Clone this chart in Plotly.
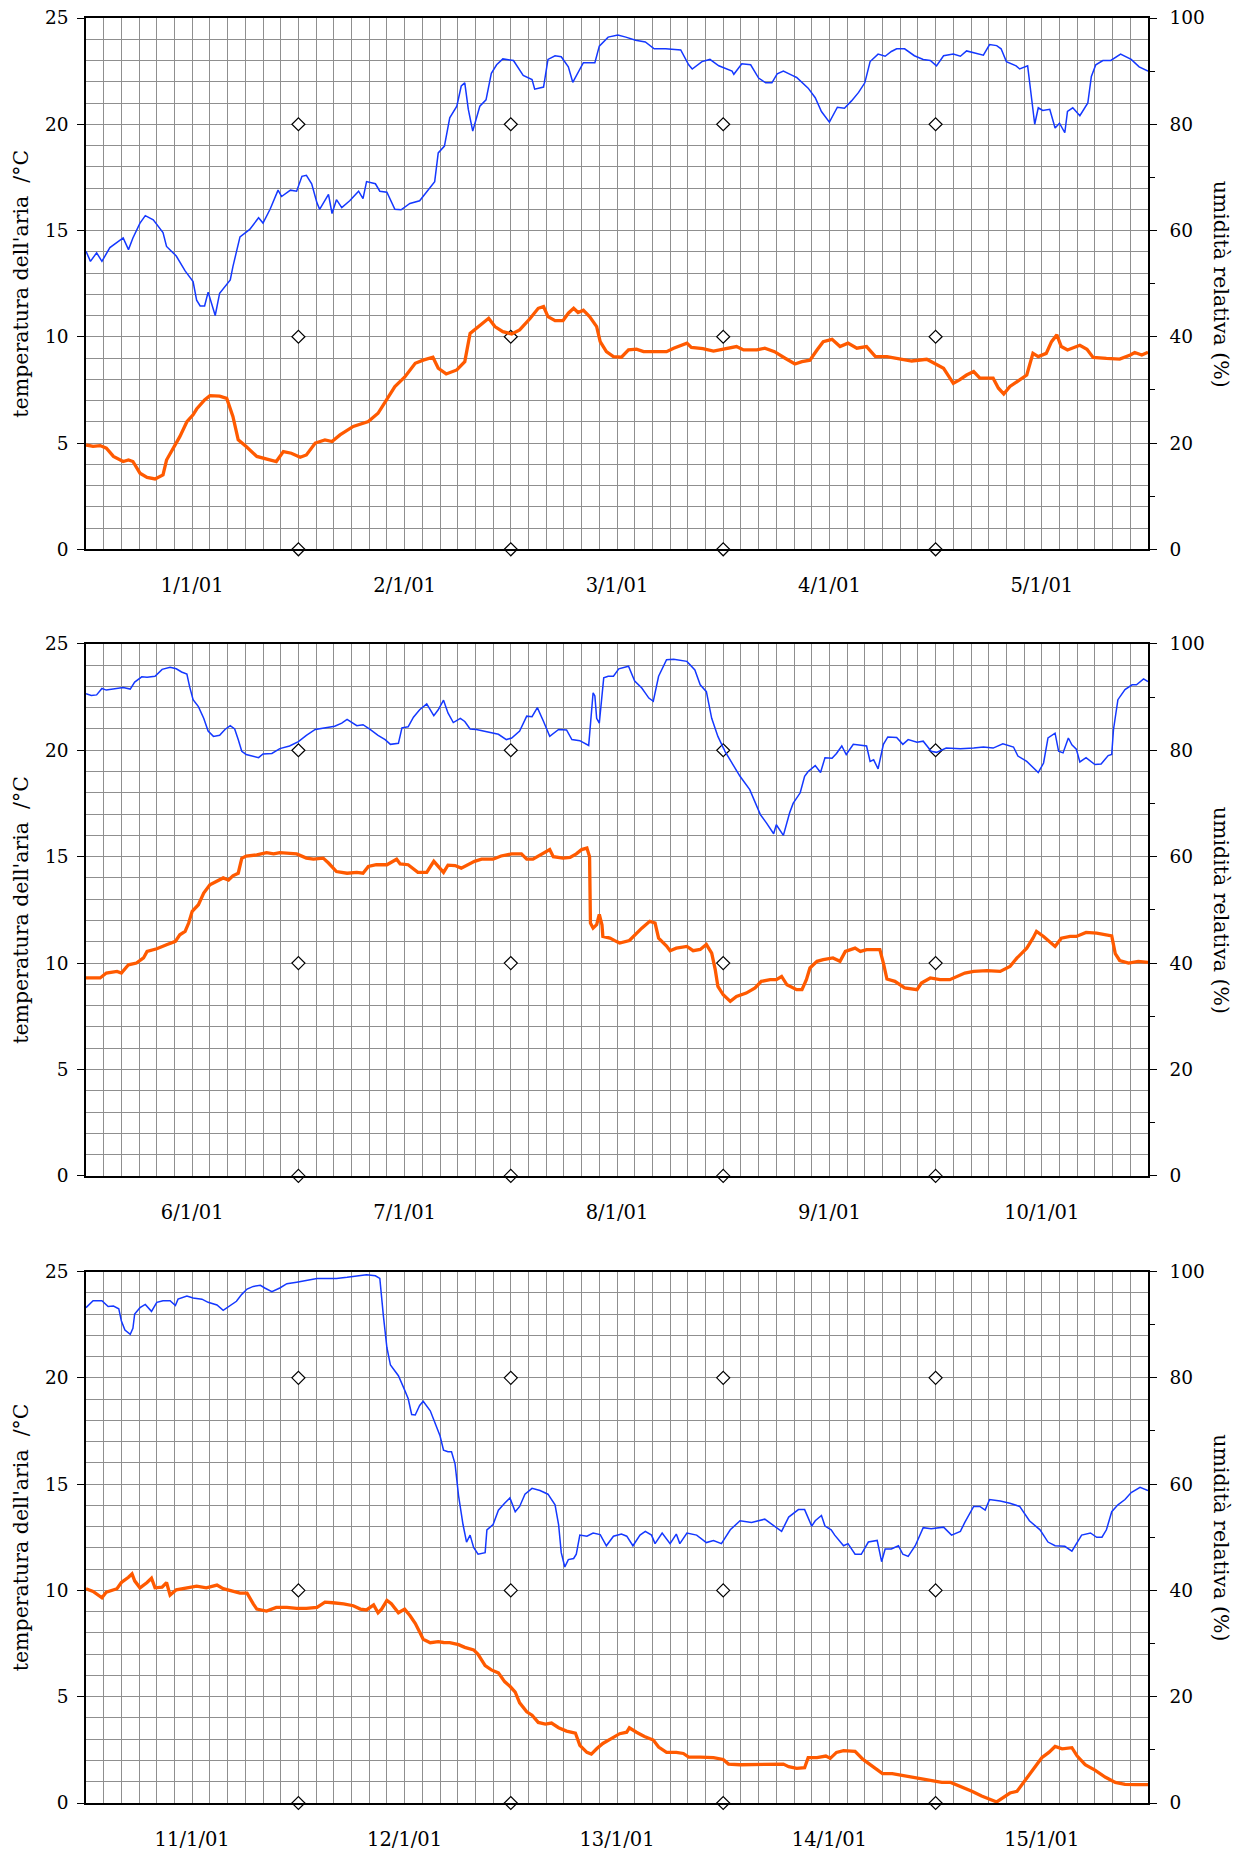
import plotly.graph_objects as go
from datetime import datetime, timedelta

# ---------------- data ----------------
panel_starts = ["2001-01-01", "2001-01-06", "2001-01-11"]
day_labels = [
    ["1/1/01", "2/1/01", "3/1/01", "4/1/01", "5/1/01"],
    ["6/1/01", "7/1/01", "8/1/01", "9/1/01", "10/1/01"],
    ["11/1/01", "12/1/01", "13/1/01", "14/1/01", "15/1/01"],
]
marker_days = [1, 2, 3, 4]          # day boundaries carrying reference diamonds
marker_levels = [0, 10, 20]         # temperature levels of the diamonds

# Panel 1 (1-5 Jan): hours from start, temperature (°C) / relative humidity (%)
p1_temp_h = [0, 0.8, 1.6, 2.3, 3.1, 4.2, 4.8, 5.3, 6.1, 6.9, 7.8, 8.7, 9.1, 9.9, 10.6, 11.4, 12.1, 12.5, 13.4, 14.0,
             15.1, 15.9, 16.6, 17.2, 18.1, 19.3, 20.0, 21.0, 21.5, 22.3, 23.2, 24.2, 24.9, 25.9, 27.0, 27.8, 28.7, 30.2,
             30.8, 31.9, 33.0, 34.0, 34.9, 36.0, 37.2, 38.1, 39.2, 39.8, 40.7, 41.9, 42.8, 43.4, 44.1, 44.9, 45.5, 46.2,
             47.1, 48.1, 49.0, 50.2, 51.1, 51.7, 52.2, 53.0, 53.9, 54.5, 55.1, 55.6, 56.2, 56.9, 57.7, 58.1, 58.8, 59.6,
             60.5, 61.3, 62.2, 63.0, 64.5, 65.6, 66.4, 67.9, 68.4, 69.7, 70.9, 72.0, 73.5, 74.3, 75.8, 76.7, 77.8, 79.0,
             80.1, 80.9, 81.8, 82.6, 83.3, 84.3, 85.2, 86.1, 87.1, 88.2, 89.2, 90.5, 92.0, 93.3, 95.0, 95.9, 96.9, 97.4,
             98.0, 98.7, 99.5, 100.3, 101.0, 102.5, 103.1, 103.7, 104.4, 105.5, 106.3, 107.0, 107.6, 108.5, 109.1, 109.7,
             110.2, 110.9, 112.3, 113.1, 113.8, 115.3, 116.8, 118.0, 118.5, 119.3, 120]
p1_temp = [4.91, 4.84, 4.88, 4.76, 4.37, 4.13, 4.2, 4.13, 3.58, 3.38, 3.31, 3.5, 4.2, 4.76, 5.3, 6.0, 6.33, 6.6, 7.03, 7.23,
           7.21, 7.1, 6.25, 5.15, 4.84, 4.37, 4.29, 4.2, 4.13, 4.6, 4.52, 4.33, 4.44, 5.0, 5.15, 5.07, 5.38, 5.78,
           5.86, 6.01, 6.4, 7.1, 7.66, 8.1, 8.75, 8.9, 9.04, 8.52, 8.25, 8.44, 8.83, 10.16, 10.4, 10.63, 10.87, 10.48,
           10.24, 10.13, 10.32, 10.87, 11.34, 11.42, 10.95, 10.76, 10.76, 11.11, 11.34, 11.14, 11.25, 10.95, 10.48, 9.77, 9.3, 9.07,
           9.04, 9.38, 9.42, 9.3, 9.3, 9.3, 9.46, 9.7, 9.5, 9.44, 9.33, 9.41, 9.54, 9.38, 9.38, 9.46, 9.3, 8.99,
           8.72, 8.83, 8.9, 9.38, 9.77, 9.88, 9.54, 9.7, 9.46, 9.54, 9.07, 9.07, 8.94, 8.86, 8.94, 8.75, 8.52, 8.2,
           7.81, 7.97, 8.2, 8.36, 8.05, 8.05, 7.58, 7.31, 7.66, 7.97, 8.2, 9.22, 9.07, 9.22, 9.77, 10.09,
           9.54, 9.38, 9.6, 9.41, 9.03, 8.98, 8.95, 9.14, 9.26, 9.14, 9.27]
p1_hum_h = [0, 0.5, 1.2, 1.8, 2.7, 4.2, 4.8, 5.3, 6.1, 6.7, 7.6, 8.7, 9.1, 10.2, 11.2, 12.1, 12.5, 12.9, 13.4, 13.8, 14.6,
            15.1, 16.3, 16.6, 17.4, 18.5, 19.5, 20.0, 20.8, 21.7, 22.1, 23.1, 23.8, 24.4, 24.9, 25.5, 26.1, 26.4, 27.4,
            27.8, 28.3, 28.9, 29.8, 30.8, 31.3, 31.7, 32.7, 33.2, 34.0, 34.9, 35.6, 36.6, 37.7, 38.7, 39.4, 39.8, 40.5,
            41.1, 41.9, 42.4, 42.8, 43.2, 43.7, 44.5, 45.2, 45.8, 46.4, 47.1, 48.3, 49.4, 50.4, 50.7, 51.7, 52.2, 53.0,
            53.7, 54.5, 55.0, 55.4, 56.2, 57.5, 58.0, 59.0, 60.1, 61.0, 62.1, 63.2, 64.2, 65.5, 67.2, 68.1, 68.5, 69.6,
            70.5, 71.5, 73.0, 73.2, 74.1, 75.1, 76.0, 76.8, 77.5, 78.1, 78.8, 79.8, 80.3, 81.6, 82.4, 83.1, 84.0, 84.9,
            85.7, 86.5, 87.3, 88.0, 88.6, 89.5, 90.3, 91.0, 91.6, 92.5, 93.6, 94.6, 95.4, 96.1, 96.9, 98.0, 98.8, 99.5,
            100.6, 101.4, 102.1, 102.9, 103.4, 104.0, 105.1, 105.5, 106.4, 106.7, 107.2, 107.6, 108.1, 108.9, 109.5,
            110.0, 110.6, 110.9, 111.5, 112.3, 113.2, 113.6, 114.1, 114.9, 115.8, 116.9, 118.1, 119.0, 119.8, 120]
p1_hum = [56.1, 54.2, 55.8, 54.2, 56.8, 58.6, 56.4, 58.6, 61.4, 62.8, 62.0, 59.6, 57.0, 55.2, 52.4, 50.4, 46.9, 45.8, 45.8, 48.4, 44.0,
          48.2, 50.7, 53.2, 58.8, 60.2, 62.4, 61.4, 64.0, 67.6, 66.4, 67.6, 67.4, 70.2, 70.4, 68.8, 65.2, 64.0, 66.8,
          63.2, 65.8, 64.3, 65.6, 67.4, 66.0, 69.2, 68.8, 67.4, 67.2, 64.0, 63.9, 65.1, 65.6, 67.6, 69.2, 74.6, 75.9,
          81.2, 83.4, 87.2, 87.8, 82.8, 78.7, 83.4, 84.6, 89.6, 91.2, 92.3, 92.0, 89.2, 88.4, 86.6, 87.0, 92.2, 92.9,
          92.7, 90.8, 87.9, 89.2, 91.6, 91.6, 94.7, 96.4, 96.8, 96.4, 95.8, 95.5, 94.2, 94.2, 94.0, 91.2, 90.4, 91.8,
          92.2, 91.0, 90.0, 89.4, 91.4, 91.2, 88.7, 87.8, 87.8, 89.5, 90.0, 89.2, 88.8, 86.8, 85.0, 82.4, 80.4, 83.2,
          83.0, 84.4, 86.0, 87.8, 91.8, 93.2, 92.8, 93.7, 94.2, 94.2, 92.9, 92.2, 92.0, 91.0, 92.9, 93.2, 92.8, 93.8,
          93.4, 93.0, 95.0, 94.8, 94.2, 91.8, 91.0, 90.4, 91.0, 87.2, 80.0, 83.1, 82.6, 82.8, 79.3,
          80.2, 78.4, 82.4, 83.1, 81.6, 84.0, 89.0, 91.2, 92.0, 92.0, 93.2, 92.2, 90.8, 90.1, 90.0]

# Panel 2 (6-10 Jan)
p2_temp_h = [0, 1.6, 2.3, 3.5, 4.0, 4.8, 5.7, 6.5, 6.9, 8.0, 9.1, 10.1, 10.6, 11.2, 11.6, 12.0, 12.7, 13.3, 14.0, 14.8,
             15.5, 16.1, 16.6, 17.2, 17.6, 18.1, 19.3, 20.4, 21.2, 21.9, 22.9, 23.8, 24.9, 25.7, 26.8, 27.4, 28.3, 29.5,
             30.6, 31.3, 31.9, 32.8, 34.0, 35.1, 35.5, 36.4, 37.5, 38.5, 39.3, 39.8, 40.4, 40.9, 41.7, 42.4, 43.2, 43.9,
             44.7, 46.0, 46.9, 48.1, 49.2, 49.8, 50.5, 51.3, 52.4, 52.8, 53.9, 54.7, 55.4, 56.0, 56.6, 56.9, 57.0, 57.3,
             57.7, 58.0, 58.3, 58.4, 59.2, 59.9, 60.3, 61.4, 62.0, 62.8, 63.7, 64.3, 64.7, 65.6, 66.0, 66.7, 67.9, 68.6,
             69.4, 70.1, 70.7, 71.1, 71.4, 72.0, 72.8, 73.5, 74.6, 75.6, 76.3, 77.3, 78.0, 78.6, 79.2, 80.3, 80.9, 81.4,
             81.8, 82.6, 83.3, 84.4, 85.2, 85.8, 86.9, 87.5, 88.2, 89.7, 90.1, 90.5, 91.4, 92.5, 93.9, 94.4, 95.4, 96.5,
             97.6, 98.4, 99.3, 100.3, 101.8, 103.3, 104.4, 105.2, 106.3, 107.0, 107.4, 108.2, 108.9, 109.5, 110.2, 111.2,
             111.9, 113.0, 114.2, 115.3, 115.9, 116.3, 116.8, 117.8, 118.9, 120]
p2_temp = [9.3, 9.3, 9.53, 9.61, 9.53, 9.92, 10.0, 10.24, 10.55, 10.67, 10.86, 11.02, 11.33, 11.49, 11.88, 12.43, 12.74, 13.29, 13.68, 13.84,
           14.0, 13.9, 14.1, 14.22, 14.92, 15.03, 15.08, 15.19, 15.13, 15.19, 15.16, 15.13, 14.93, 14.88, 14.93, 14.7, 14.3, 14.22,
           14.26, 14.22, 14.54, 14.62, 14.62, 14.88, 14.66, 14.62, 14.26, 14.26, 14.78, 14.54, 14.26, 14.6, 14.58, 14.46, 14.62, 14.78,
           14.88, 14.88, 15.03, 15.13, 15.13, 14.88, 14.88, 15.08, 15.33, 15.0, 14.93, 14.96, 15.13, 15.33, 15.4, 15.0, 11.88, 11.64,
           11.8, 12.28, 11.8, 11.25, 11.17, 11.02, 10.94, 11.06, 11.33, 11.64, 11.96, 11.88, 11.17, 10.8, 10.58, 10.7, 10.78, 10.58,
           10.64, 10.87, 10.47, 9.69, 8.9, 8.51, 8.2, 8.43, 8.59, 8.83, 9.14, 9.22, 9.22, 9.37, 8.98, 8.75, 8.75, 9.22,
           9.77, 10.08, 10.16, 10.24, 10.08, 10.55, 10.7, 10.55, 10.63, 10.63, 10.0, 9.25, 9.14, 8.83, 8.75, 9.06, 9.3, 9.22,
           9.22, 9.37, 9.53, 9.61, 9.64, 9.61, 9.84, 10.24, 10.7, 11.17, 11.49, 11.25, 11.02, 10.78, 11.17, 11.25,
           11.25, 11.44, 11.41, 11.33, 11.28, 10.44, 10.12, 10.0, 10.08, 10.03]
p2_hum_h = [0, 0.6, 1.2, 1.8, 2.3, 3.1, 4.2, 5.0, 5.5, 6.3, 6.9, 7.8, 8.6, 9.5, 10.2, 10.8, 11.4, 11.7, 12.1, 12.7, 13.3,
            13.8, 14.4, 15.1, 15.7, 16.3, 16.8, 17.2, 17.6, 18.1, 18.9, 19.5, 20.0, 21.0, 21.9, 23.0, 24.0, 24.9, 25.9,
            26.8, 28.1, 28.9, 29.5, 30.6, 31.3, 32.1, 33.0, 33.8, 34.4, 35.3, 35.7, 36.4, 37.0, 37.7, 38.5, 39.3, 39.8,
            40.4, 40.9, 41.5, 42.3, 42.8, 43.4, 44.1, 45.3, 46.6, 47.5, 48.1, 49.0, 49.8, 50.4, 51.0, 51.7, 52.4, 53.4,
            54.3, 54.9, 55.8, 56.8, 57.0, 57.3, 57.5, 57.7, 58.0, 58.3, 58.5, 59.0, 59.6, 60.2, 61.3, 62.0, 62.8, 63.6,
            64.1, 64.7, 65.6, 66.4, 67.9, 68.8, 69.4, 70.1, 70.7, 71.4, 72.2, 73.1, 73.9, 75.0, 76.2, 76.9, 77.7, 78.0,
            78.8, 79.5, 79.9, 80.7, 81.2, 81.6, 82.4, 83.0, 83.5, 84.3, 84.8, 85.4, 85.9, 86.7, 87.4, 88.2, 88.6, 89.0,
            89.5, 90.1, 90.6, 91.6, 92.3, 92.9, 93.9, 94.6, 95.5, 96.1, 97.2, 98.8, 100.3, 101.4, 102.5, 103.6, 104.8,
            105.3, 106.3, 107.0, 107.6, 108.2, 108.7, 109.5, 109.9, 110.4, 111.0, 111.4, 111.9, 112.3, 113.0, 114.0,
            114.7, 115.5, 115.9, 116.1, 116.6, 117.4, 118.2, 118.7, 119.5, 120]
p2_hum = [90.6, 90.3, 90.4, 91.6, 91.3, 91.5, 91.8, 91.5, 92.8, 93.8, 93.7, 93.9, 95.2, 95.6, 95.3, 94.7, 94.3, 92.0, 89.5, 88.2, 86.0,
          83.6, 82.6, 82.8, 83.9, 84.6, 84.0, 82.0, 79.8, 79.2, 78.9, 78.6, 79.3, 79.4, 80.3, 80.8, 81.6, 82.8, 83.9,
          84.1, 84.5, 85.1, 85.8, 84.6, 84.8, 83.9, 82.8, 82.0, 81.1, 81.3, 84.2, 84.4, 86.2, 87.6, 88.7, 86.5, 87.6,
          89.4, 87.0, 85.2, 86.0, 85.4, 84.0, 83.9, 83.4, 83.0, 82.0, 82.3, 83.6, 86.4, 86.3, 88.0, 85.4, 82.6, 83.9,
          83.8, 82.0, 81.8, 80.9, 84.5, 90.8, 90.2, 86.0, 85.1, 90.2, 93.6, 93.9, 93.9, 95.3, 95.8, 93.0, 91.7, 89.8,
          89.2, 93.9, 97.0, 97.1, 96.7, 95.1, 92.3, 91.0, 86.0, 82.6, 79.8, 77.3, 75.1, 72.6, 67.9, 66.3, 64.3, 66.0,
          64.0, 68.2, 70.0, 72.0, 75.1, 76.0, 77.1, 75.8, 78.6, 78.5, 79.4, 80.8, 79.2, 81.1, 81.0, 80.8, 77.9, 78.2,
          76.5, 81.1, 82.5, 82.4, 81.1, 82.0, 81.5, 81.7, 79.8, 79.6, 80.4, 80.3, 80.4, 80.6, 80.4, 81.2, 80.6,
          78.9, 77.9, 76.7, 75.8, 77.6, 82.3, 83.2, 79.8, 79.5, 82.3, 81.0, 80.2, 77.8, 78.6, 77.3,
          77.4, 79.0, 79.2, 83.9, 89.5, 91.4, 92.3, 92.3, 93.4, 92.9]

# Panel 3 (11-15 Jan)
p3_temp_h = [0, 0.8, 1.8, 2.3, 3.5, 4.0, 4.8, 5.2, 5.5, 6.1, 6.9, 7.4, 7.8, 8.6, 9.1, 9.5, 10.2, 11.4, 12.5, 13.6, 14.8,
             15.5, 16.5, 17.4, 18.2, 18.5, 18.9, 19.3, 20.4, 21.5, 22.7, 23.8, 24.9, 26.1, 27.0, 27.9, 29.1, 30.2, 31.0,
             31.7, 32.5, 33.0, 33.4, 34.0, 34.5, 35.3, 36.0, 36.6, 37.2, 37.7, 38.1, 38.9, 39.8, 40.4, 41.1, 42.1, 42.8,
             43.8, 44.3, 45.1, 45.8, 46.6, 47.3, 47.9, 48.5, 49.0, 49.8, 50.4, 51.1, 51.9, 52.6, 53.4, 54.3, 55.3, 55.8,
             56.6, 57.1, 57.7, 58.4, 59.4, 60.3, 61.1, 61.4, 62.2, 63.1, 64.1, 64.7, 65.6, 66.7, 67.5, 68.1, 69.4, 70.9,
             72.0, 72.6, 73.9, 75.8, 77.7, 78.8, 79.4, 80.3, 81.2, 81.6, 82.6, 83.6, 84.1, 84.8, 85.6, 86.9, 87.8, 88.9,
             90.0, 91.1, 92.3, 93.4, 94.5, 95.6, 96.7, 97.7, 98.2, 99.0, 100.1, 101.2, 102.2, 102.9, 103.5, 104.4, 105.2,
             105.8, 106.5, 107.3, 108.0, 108.8, 109.5, 110.3, 111.4, 112.0, 112.9, 114.0, 115.2, 116.3, 117.4, 118.6, 120]
p3_temp = [10.08, 9.95, 9.65, 9.92, 10.08, 10.37, 10.62, 10.78, 10.45, 10.12, 10.37, 10.57, 10.12, 10.15, 10.37, 9.78, 10.03, 10.12, 10.2, 10.12, 10.25,
           10.08, 9.98, 9.87, 9.87, 9.62, 9.37, 9.12, 9.03, 9.2, 9.2, 9.15, 9.15, 9.2, 9.45, 9.42, 9.37, 9.28, 9.12,
           9.08, 9.32, 8.95, 9.12, 9.53, 9.37, 8.95, 9.12, 8.82, 8.45, 8.04, 7.7, 7.54, 7.59, 7.55, 7.54, 7.45, 7.32,
           7.2, 6.99, 6.46, 6.26, 6.12, 5.71, 5.49, 5.21, 4.71, 4.29, 4.13, 3.79, 3.71, 3.76, 3.54, 3.38, 3.29, 2.71,
           2.38, 2.3, 2.55, 2.8, 3.04, 3.26, 3.33, 3.54, 3.33, 3.13, 2.96, 2.63, 2.38, 2.38, 2.33, 2.16, 2.16, 2.13,
           2.05, 1.83, 1.8, 1.8, 1.8, 1.83, 1.71, 1.63, 1.66, 2.13, 2.13, 2.21, 2.1, 2.38, 2.46, 2.43, 2.05, 1.71,
           1.38, 1.38, 1.3, 1.21, 1.13, 1.05, 0.97, 0.97, 0.88, 0.77, 0.55, 0.33, 0.17, 0.05, 0.22, 0.47, 0.55,
           0.88, 1.3, 1.71, 2.13, 2.38, 2.66, 2.55, 2.6, 2.21, 1.8, 1.55, 1.21, 0.97, 0.88, 0.86, 0.86]
p3_hum_h = [0, 0.8, 1.8, 2.5, 3.1, 3.7, 4.0, 4.4, 5.0, 5.3, 5.5, 6.1, 6.7, 7.4, 8.0, 8.7, 9.5, 10.1, 10.4, 11.4, 12.1,
            13.1, 13.8, 14.8, 15.5, 16.3, 17.0, 17.6, 18.2, 18.9, 19.7, 20.2, 21.0, 21.9, 22.7, 23.8, 24.9, 26.1, 27.2,
            28.3, 29.5, 30.6, 31.7, 32.7, 33.2, 33.6, 34.0, 34.4, 35.3, 35.9, 36.4, 36.8, 37.2, 37.7, 38.1, 38.9, 39.4,
            40.0, 40.4, 40.9, 41.3, 41.7, 42.1, 42.6, 43.0, 43.4, 43.8, 44.3, 45.1, 45.3, 46.0, 46.6, 47.3, 47.9, 48.5,
            49.0, 49.6, 50.4, 51.3, 52.2, 53.0, 53.4, 53.7, 54.1, 54.5, 55.1, 55.4, 55.8, 56.6, 57.3, 58.1, 58.8, 59.6,
            60.5, 61.1, 61.8, 62.6, 63.2, 63.9, 64.3, 65.1, 66.0, 66.7, 67.1, 67.9, 69.0, 70.1, 70.9, 71.8, 72.8, 73.9,
            75.2, 76.7, 77.7, 78.6, 79.4, 80.5, 81.2, 81.6, 82.0, 82.4, 83.1, 83.5, 84.2, 84.6, 85.6, 86.1, 86.9, 87.6,
            88.4, 89.4, 89.9, 90.3, 91.0, 91.8, 92.3, 92.9, 93.7, 94.6, 95.5, 96.9, 97.8, 98.8, 99.3, 100.3, 101.0,
            101.6, 102.1, 103.3, 104.4, 105.5, 106.6, 107.8, 108.7, 109.5, 110.6, 111.4, 112.0, 112.5, 113.5, 114.2,
            114.8, 115.3, 115.9, 116.6, 117.4, 118.1, 119.1, 120]
p3_hum = [93.2, 94.5, 94.5, 93.4, 93.5, 93.0, 90.7, 89.0, 88.2, 89.3, 92.0, 93.2, 93.8, 92.5, 94.2, 94.5, 94.5, 93.6, 94.8, 95.4, 95.0,
          94.8, 94.2, 93.7, 92.7, 93.6, 94.4, 95.7, 96.7, 97.2, 97.4, 96.9, 96.2, 96.9, 97.7, 98.0, 98.4, 98.7, 98.7,
          98.7, 98.9, 99.2, 99.4, 99.2, 98.7, 91.7, 85.7, 82.4, 80.4, 78.1, 76.1, 73.1, 73.0, 74.8, 75.6, 73.8, 71.8,
          69.1, 66.4, 66.1, 66.1, 63.8, 57.8, 52.4, 49.1, 50.4, 48.1, 46.8, 47.1, 51.4, 52.4, 55.1, 56.4, 57.4, 54.8,
          55.8, 58.1, 59.2, 58.8, 58.1, 56.1, 52.4, 47.1, 44.4, 45.8, 46.0, 46.8, 50.4, 50.2, 50.8, 50.5, 48.4, 50.2,
          50.6, 50.2, 48.4, 50.4, 51.1, 50.4, 48.8, 50.8, 48.8, 50.6, 48.8, 50.8, 50.4, 49.0, 49.4, 48.8, 51.4, 53.1,
          52.8, 53.4, 52.1, 51.1, 53.8, 55.2, 55.2, 53.6, 52.1, 53.1, 54.1, 52.1, 51.4, 50.4, 48.4, 48.8, 46.8, 46.8,
          49.1, 49.4, 45.4, 47.8, 47.8, 48.4, 46.8, 46.4, 48.4, 51.8, 51.6, 51.9, 50.4, 51.1, 52.8, 55.8, 55.8,
          55.1, 57.1, 56.8, 56.4, 55.8, 53.1, 51.4, 49.1, 48.4, 48.3, 47.4, 49.1, 50.4, 50.8, 50.0,
          50.0, 51.4, 54.8, 56.1, 57.1, 58.4, 59.4, 58.8]

panels = [
    (p1_temp_h, p1_temp, p1_hum_h, p1_hum),
    (p2_temp_h, p2_temp, p2_hum_h, p2_hum),
    (p3_temp_h, p3_temp, p3_hum_h, p3_hum),
]

# ---------------- styling ----------------
FONT = "DejaVu Serif"
GRID = "#8f8f8f"
BLUE = "#1438ff"
ORANGE = "#ff5a00"
T_TITLE = "temperatura dell'aria\u00a0 /°C"
H_TITLE = "umidità relativa (%)"

# the figure fills the whole 1245 x 1857 page (body margin removed below)
FIG_W, FIG_H = 1245, 1857
PLOT_L, PLOT_R = 86, 1148                       # x of the plot area
panel_px = [(18.3, 549.5), (644.0, 1176.0), (1271.6, 1803.0)]   # y (top, bottom)
M_TOP = panel_px[0][0]
M_BOT = FIG_H - panel_px[2][1]
plot_h = FIG_H - M_TOP - M_BOT
plot_w = PLOT_R - PLOT_L


def to_paper_y(py):
    return (panel_px[2][1] - py) / plot_h


def to_paper_x(px):
    return (px - PLOT_L) / plot_w


fig = go.Figure()
layout_axes = {}
annotations = []

for i, (th, tv, hh, hv) in enumerate(panels):
    n = i + 1
    start = datetime.fromisoformat(panel_starts[i])
    xname = "x" if n == 1 else f"x{n}"
    yt = f"y{2 * n - 1}" if n > 1 else "y"
    yh = f"y{2 * n}"
    xkey = "xaxis" if n == 1 else f"xaxis{n}"
    ytkey = "yaxis" if n == 1 else f"yaxis{2 * n - 1}"
    yhkey = f"yaxis{2 * n}"

    # reference diamonds
    mx, my = [], []
    for d in marker_days:
        for lv in marker_levels:
            mx.append(start + timedelta(days=d))
            my.append(lv)
    fig.add_trace(go.Scatter(x=mx, y=my, mode="markers", xaxis=xname, yaxis=yt,
                             marker=dict(symbol="diamond", size=10, color="white",
                                         line=dict(color="black", width=1.2)),
                             cliponaxis=False, showlegend=False, hoverinfo="skip"))
    # humidity (right axis)
    fig.add_trace(go.Scatter(x=[start + timedelta(hours=h) for h in hh], y=hv, mode="lines",
                             xaxis=xname, yaxis=yh, line=dict(color=BLUE, width=1.5),
                             showlegend=False, name="umidità"))
    # temperature (left axis)
    fig.add_trace(go.Scatter(x=[start + timedelta(hours=h) for h in th], y=tv, mode="lines",
                             xaxis=xname, yaxis=yt, line=dict(color=ORANGE, width=3.3),
                             showlegend=False, name="temperatura"))

    top, bot = panel_px[i]
    dom = [max(0.0, to_paper_y(bot)), min(1.0, to_paper_y(top))]

    tickvals = [start + timedelta(hours=2 * k) for k in range(61)]
    ticktext = [""] * 61
    for d in range(5):
        ticktext[12 * d + 6] = day_labels[i][d]

    layout_axes[xkey] = dict(
        domain=[0, 1], anchor=yt, type="date", automargin=False,
        range=[start, start + timedelta(days=5)],
        tickmode="array", tickvals=tickvals, ticktext=ticktext, ticks="",
        showgrid=True, gridcolor=GRID, gridwidth=1.2,
        showline=True, linecolor="black", linewidth=1.6, mirror=True,
        tickfont=dict(family=FONT, size=19.5, color="black"),
        ticklabelstandoff=18, ticklabeloverflow="allow", zeroline=False,
    )
    layout_axes[ytkey] = dict(
        domain=dom, anchor=xname, range=[0, 25], dtick=5, tick0=0, automargin=False,
        ticks="outside", ticklen=7, tickwidth=1.3, tickcolor="black",
        showgrid=True, gridcolor=GRID, gridwidth=1.2,
        minor=dict(dtick=1, tick0=0, showgrid=True, gridcolor=GRID, gridwidth=1.2, ticks=""),
        showline=True, linecolor="black", linewidth=1.6, zeroline=False,
        tickfont=dict(family=FONT, size=18.5, color="black"),
        ticklabelstandoff=5, ticklabeloverflow="allow",
    )
    layout_axes[yhkey] = dict(
        overlaying=yt, side="right", anchor=xname, range=[0, 100], dtick=20, tick0=0, automargin=False,
        ticks="outside", ticklen=7, tickwidth=1.3, tickcolor="black",
        minor=dict(dtick=10, tick0=0, ticks="outside", ticklen=5, tickcolor="black", showgrid=False),
        showgrid=False, zeroline=False,
        showline=True, linecolor="black", linewidth=1.6,
        tickfont=dict(family=FONT, size=18.5, color="black"),
        ticklabelstandoff=9, ticklabeloverflow="allow",
    )

    yc = (dom[0] + dom[1]) / 2
    annotations.append(dict(text=T_TITLE, xref="paper", yref="paper", x=to_paper_x(21), y=yc,
                            textangle=-90, showarrow=False, xanchor="center", yanchor="middle",
                            font=dict(family=FONT, size=20.5, color="black")))
    annotations.append(dict(text=H_TITLE, xref="paper", yref="paper", x=to_paper_x(1221), y=yc,
                            textangle=90, showarrow=False, xanchor="center", yanchor="middle",
                            font=dict(family=FONT, size=20.5, color="black")))

fig.update_layout(
    width=FIG_W, height=FIG_H,
    margin=dict(l=PLOT_L, r=FIG_W - PLOT_R, t=M_TOP, b=M_BOT),
    paper_bgcolor="white", plot_bgcolor="white",
    annotations=annotations, showlegend=False,
    font=dict(family=FONT, color="black"),
    **layout_axes,
)

# remove the browser's default 8 px body margin so the figure fills the window
fig.write_html("out.html",
               config={"displayModeBar": False},
               post_script="document.body.style.margin='0';document.documentElement.style.margin='0';")
